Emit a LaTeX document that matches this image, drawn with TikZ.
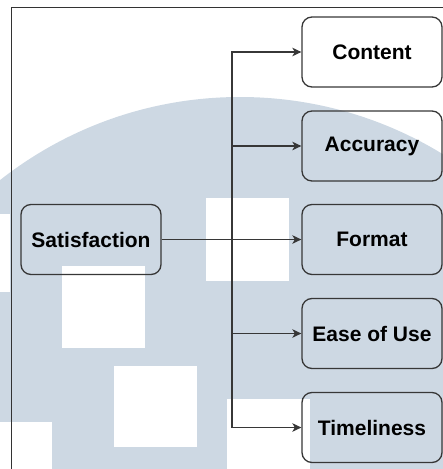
\documentclass[tikz,border=0pt]{standalone}
\usepackage{fontspec}
\setmainfont{Liberation Sans}
\usetikzlibrary{arrows.meta}
\definecolor{markblue}{RGB}{205,216,227}
\definecolor{edgegray}{RGB}{55,55,55}
\tikzset{
  factor/.style={draw=edgegray, line width=1.3pt, rounded corners=10pt,
    minimum width=140pt, minimum height=70pt, inner sep=0pt,
    font=\fontsize{21}{25}\selectfont\bfseries, text=black},
  link/.style={draw=edgegray, line width=1.4pt,
    -{Stealth[length=9pt,width=8.5pt,inset=2.5pt]}},
  frameline/.style={draw=black!80, line width=1pt},
  tile/.style={fill=white, draw=none}
}
\begin{document}
\begin{tikzpicture}[x=1pt, y=-1pt]
  \useasboundingbox (0,0) rectangle (443,469);

  % background emblem: large disc with white tiles
  \begin{scope}
    \clip (0,0) rectangle (443,469);
    \fill[markblue] (240,485) circle[radius=388];
    \fill[tile] (206,198) rectangle (289,281);
    \fill[tile] (62,266) rectangle (145,348);
    \fill[tile] (114,366) rectangle (197,447);
    \fill[tile] (227,399) rectangle (310,482);
    \fill[tile] (-31,422) rectangle (52,505);
    \fill[tile] (-73,214) rectangle (10,292);
  \end{scope}

  % outer frame (top and left edges)
  \draw[frameline] (11,470) -- (11,7.5) -- (444,7.5);

  % nodes
  \node[factor] (sat) at (91,239.5) {Satisfaction};
  \node[factor] (content) at (372,52) {Content};
  \node[factor] (accuracy) at (372,146) {Accuracy};
  \node[factor] (format) at (372,239.5) {Format};
  \node[factor] (ease) at (372,333.5) {Ease of Use};
  \node[factor] (time) at (372,427.5) {Timeliness};

  % connectors
  \coordinate (trunk) at (232,239.5);
  \draw[link] (sat.east) -- (format.west);
  \draw[link] (trunk) |- (content.west);
  \draw[link] (trunk) |- (accuracy.west);
  \draw[link] (trunk) |- (ease.west);
  \draw[link] (trunk) |- (time.west);
\end{tikzpicture}
\end{document}
